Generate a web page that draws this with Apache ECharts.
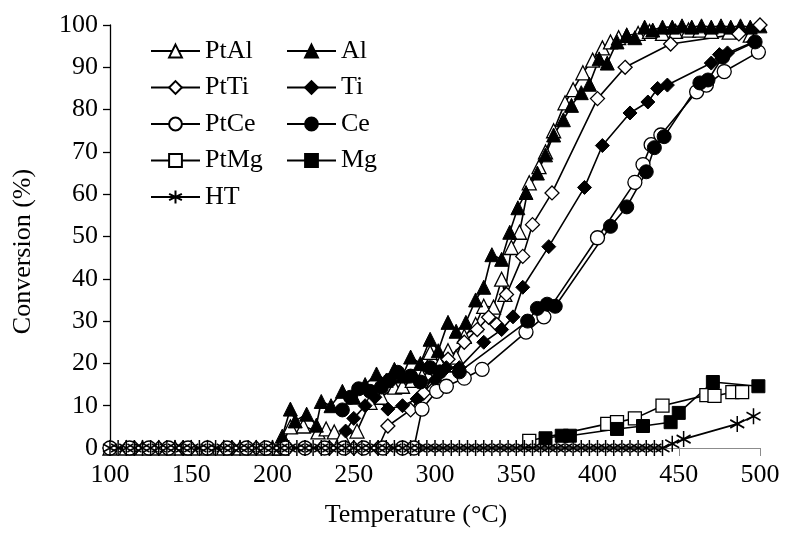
<!DOCTYPE html>
<html><head><meta charset="utf-8">
<script src="https://cdn.jsdelivr.net/npm/echarts@6/dist/echarts.min.js"></script>
<style>html,body{margin:0;padding:0;background:#fff}#c{width:786px;height:533px}</style>
</head><body><div id="c"></div>
<script>
// ---------- data (temperature °C, conversion %) ----------
const tPtAl=[100,110,120,130,140,150,160,170,180,190,200,205,211,219,228,233,238,243,252,260,267,275,280,286,292,297,303,308,313,318,325,330,336,341,343,347,352,358,364,368,373,380,385,391,397,403,408,413,418,425,432,440,448,456,463,470,481,494];
const vPtAl=[0,0,0,0,0,0,0,0,0,0,0,0,5,5.2,3.8,4.5,3.8,2.8,4,10.8,12,14.4,14.6,16,17,22.6,20,23,21.5,26.4,29.2,33.5,33.3,39.9,36.3,47.4,51,62.7,66.5,70,75,81.6,84.7,88.7,91.7,94.6,96,97,97.5,98,98.5,98,98.5,98.8,98.8,98.5,98.3,97.6];

const tAl=[206,211,214,221,227,230,236,243,250,257,264,270,275,280,285,291,297,302,308,313,319,325,330,335,341,346,351,356,363,368,373,379,384,390,395,401,406,412,418,423,429,434,440,446,452,458,464,470,476,482,488,494,500];
const vAl=[2.8,9.2,6.4,8,5.4,11,10,13.4,12,15,17.5,16,18.6,17,21.5,20,25.7,23,29.7,27.6,29.7,35,38,45.7,44.6,51,56.8,60.4,65,69.3,74,77.6,81,84,86,92,91,96,97.6,97,99.5,98.8,99.5,99.5,99.8,99.5,99.8,99.5,99.8,99.5,99.8,99.5,99.8];

const tPtTi=[100,115,130,145,160,175,190,205,220,235,250,265,271,285,293,300,308,318,326,333,338,344,354,360,372,400,417,445,487,500];
const vPtTi=[0,0,0,0,0,0,0,0,0,0,0,0,5.2,9,13,18,21,25,28,30.9,29.2,36.3,45.3,52.8,60.3,82.6,90,95.5,97.9,100];

const tTi=[245,250,257,263,271,280,289,300,307,315,330,341,348,354,370,392,403,420,431,437,443,470,475,480,496];
const vTi=[4,7,10,12,9.2,10,11.6,16,19,19,25,28,31,38,47.6,61.6,71.5,79.2,81.8,85,85.8,91,93,93.4,96];

const tPtCe=[100,112,124,136,148,160,172,184,196,208,220,232,244,256,268,280,287,292,301,307,318,329,356,367,400,423,428,433,439,461,467,478,499];
const vPtCe=[0,0,0,0,0,0,0,0,0,0,0,0,0,0,0,0,0,9.2,13.4,14.6,16.5,18.6,27.4,31,49.7,62.8,67,71.7,74,84.2,85.8,89,93.6];

const tCe=[243,248,253,260,267,272,277,285,291,297,303,315,357,363,369,374,408,418,430,435,441,463,468,477,497];
const vCe=[9,12,14,13.4,14.4,16,17.9,17,15.6,19,18,18,30,33,34,33.5,52.4,57,65.3,71,73.6,86.3,87,92.4,96];

const tPtMg=[358,406,412,423,440,467,472,483,489];
const vPtMg=[1.7,5.7,6.1,7,10,12.5,12.3,13.2,13.2];

const tMg=[368,378,383,412,428,445,450,471,499];
const vMg=[2.3,2.9,2.9,4.5,5.2,6.1,8.3,15.6,14.6];

const tHT=[100,105,110,115,120,125,130,135,140,145,150,155,160,165,170,175,180,185,190,195,200,205,210,215,220,225,230,235,240,245,250,255,260,265,270,275,280,285,290,295,300,305,310,315,320,325,330,335,340,345,350,355,360,365,370,375,380,385,390,395,400,405,410,415,420,425,430,435,440,446,453,486,496];
const vHT=[0,0,0,0,0,0,0,0,0,0,0,0,0,0,0,0,0,0,0,0,0,0,0,0,0,0,0,0,0,0,0,0,0,0,0,0,0,0,0,0,0,0,0,0,0,0,0,0,0,0,0,0,0,0,0,0,0,0,0,0,0,0,0,0,0,0,0,0,0,1,2.1,5.7,7.5];

const xTicks=[100,150,200,250,300,350,400,450,500];
const yTicks=[0,10,20,30,40,50,60,70,80,90,100];
const legendLeft=['PtAl','PtTi','PtCe','PtMg','HT'];
const legendRight=['Al','Ti','Ce','Mg'];

// ---------- chart ----------
const FONT='"Times New Roman","Liberation Serif",serif';
const chart=echarts.init(document.getElementById('c'),null,{renderer:'canvas'});
const pairs=(t,v)=>t.map((x,i)=>[x,v[i]]);
const openS={color:'#ffffff',borderColor:'#000',borderWidth:1.3};
const fillS={color:'#000',borderColor:'#000',borderWidth:1};
const starS={color:'rgba(0,0,0,0)',borderColor:'#000',borderWidth:1.6};
const STAR='path://M10,0L10,20M1.34,5L18.66,15M1.34,15L18.66,5';
function mk(name,t,v,symbol,size,style){
  return {name,type:'line',data:pairs(t,v),symbol,symbolSize:size,showSymbol:true,showAllSymbol:true,
    lineStyle:{color:'#000',width:1.6},itemStyle:style,emphasis:{disabled:true},silent:true};
}
const series=[
  mk('PtAl',tPtAl,vPtAl,'triangle',14,openS),
  mk('Al',tAl,vAl,'triangle',14,fillS),
  mk('PtTi',tPtTi,vPtTi,'diamond',14,openS),
  mk('Ti',tTi,vTi,'diamond',14,fillS),
  mk('PtCe',tPtCe,vPtCe,'circle',14,openS),
  mk('Ce',tCe,vCe,'circle',14,fillS),
  mk('PtMg',tPtMg,vPtMg,'rect',13,openS),
  mk('Mg',tMg,vMg,'rect',13,fillS),
  mk('HT',tHT,vHT,STAR,[14,16],starS)
];
const legendBase={orient:'vertical',top:33,itemWidth:49,itemHeight:16,itemGap:10.5,
  textStyle:{fontFamily:FONT,fontSize:26,color:'#000'},selectedMode:false};
chart.setOption({
  animation:false,
  backgroundColor:'#fff',
  grid:{left:110,right:26,top:25,bottom:84,containLabel:false},
  legend:[
    Object.assign({data:legendLeft,left:145},legendBase),
    Object.assign({data:legendRight,left:281},legendBase)
  ],
  xAxis:{type:'value',min:xTicks[0],max:xTicks[xTicks.length-1],interval:50,
    name:'Temperature (°C)',nameLocation:'middle',nameGap:54,
    nameTextStyle:{fontFamily:FONT,fontSize:26,color:'#000',padding:[0,38,0,0]},
    axisLine:{show:true,onZero:false,lineStyle:{color:'#8c8c8c',width:1}},
    axisTick:{show:true,inside:false,length:8,lineStyle:{color:'#8c8c8c'}},
    axisLabel:{fontFamily:FONT,fontSize:26,color:'#000',margin:14},
    splitLine:{show:false}},
  yAxis:{type:'value',min:yTicks[0],max:yTicks[yTicks.length-1],interval:10,
    name:'Conversion (%)',nameLocation:'middle',nameGap:74,
    nameTextStyle:{fontFamily:FONT,fontSize:26,color:'#000',padding:[0,30,0,0]},
    axisLine:{show:true,lineStyle:{color:'#000',width:1.3}},
    axisTick:{show:true,inside:false,length:7,lineStyle:{color:'#000',width:1.3}},
    axisLabel:{fontFamily:FONT,fontSize:26,color:'#000',margin:12},
    splitLine:{show:false}},
  series
});
</script></body></html>
